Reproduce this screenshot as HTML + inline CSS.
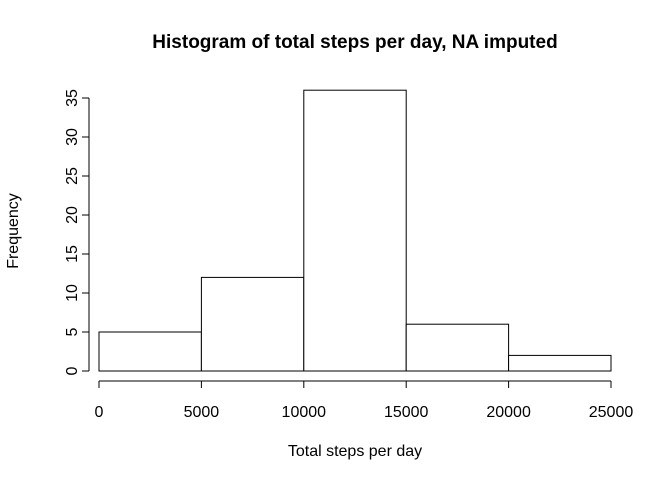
<!DOCTYPE html>
<html><head><meta charset="utf-8"><style>
body{margin:0;background:#fff}
svg{display:block;font-family:"Liberation Sans",Arial,sans-serif}
</style></head><body>
<svg id="chart" width="672" height="480">
<text x="355" y="48" text-anchor="middle" font-size="19" font-weight="bold">Histogram of total steps per day, NA imputed</text>
<text x="355" y="456" text-anchor="middle" font-size="16">Total steps per day</text>
<text transform="translate(18,231) rotate(-90)" text-anchor="middle" font-size="16">Frequency</text>
<g id="bars"></g><g id="xaxis"></g><g id="yaxis"></g>
</svg>
<script>
const binStarts=[0,5000,10000,15000,20000];
const binWidth=5000;
const counts=[5,12,36,6,2];
const xTicks=[0,5000,10000,15000,20000,25000];
const yTicks=[0,5,10,15,20,25,30,35];
const NS="http://www.w3.org/2000/svg";
const x=v=>99+(v/25000)*512;
const y=v=>371-v*(273/35);
function mk(t,a,p){const e=document.createElementNS(NS,t);for(const k in a)e.setAttribute(k,a[k]);p.appendChild(e);return e;}
const bars=document.getElementById('bars');
counts.forEach((c,i)=>{
 const r=mk('rect',{x:x(binStarts[i]),y:y(c),width:x(binStarts[i]+binWidth)-x(binStarts[i]),height:y(0)-y(c),fill:'#fff',stroke:'#000','stroke-width':1},bars);
 
 
});
const xa=document.getElementById('xaxis');
mk('line',{x1:x(xTicks[0]),x2:x(xTicks[xTicks.length-1]),y1:381,y2:381,stroke:'#000'},xa);
xTicks.forEach(t=>{
 mk('line',{x1:x(t),x2:x(t),y1:381,y2:388,stroke:'#000'},xa);
 const tx=mk('text',{x:x(t),y:417,'text-anchor':'middle','font-size':16},xa);
 tx.textContent=t;
 
 
});
const ya=document.getElementById('yaxis');
mk('line',{x1:89,x2:89,y1:y(yTicks[0]),y2:y(yTicks[yTicks.length-1]),stroke:'#000'},ya);
yTicks.forEach(t=>{
 mk('line',{x1:82,x2:89,y1:y(t),y2:y(t),stroke:'#000'},ya);
 const tx=mk('text',{transform:`translate(77,${y(t)}) rotate(-90)`,'text-anchor':'middle','font-size':16},ya);
 tx.textContent=t;
 
 
});
</script>
</body></html>
